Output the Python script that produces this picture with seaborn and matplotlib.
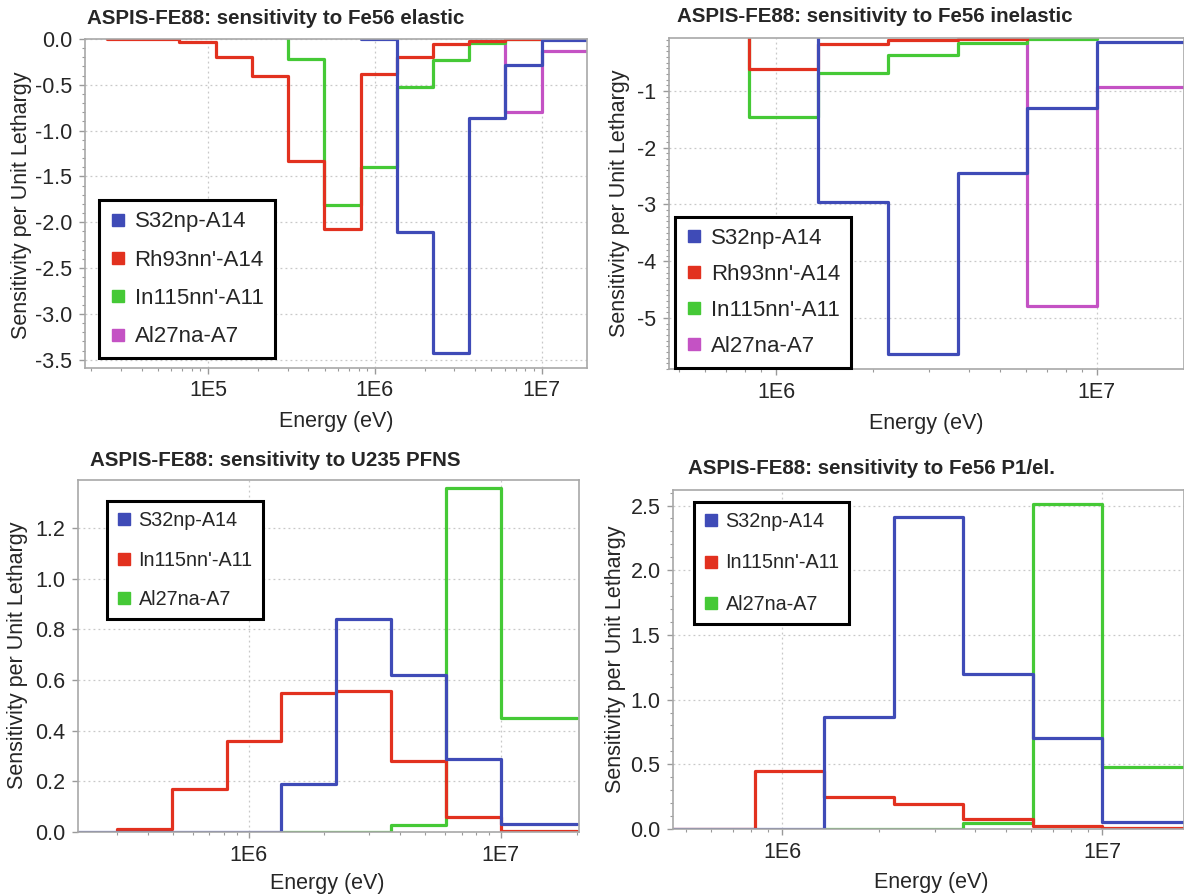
import numpy as np
import pandas as pd
import matplotlib
matplotlib.use("Agg")
import matplotlib.pyplot as plt
import seaborn as sns
from matplotlib.lines import Line2D
from matplotlib.ticker import FixedLocator, FuncFormatter, LogLocator, MultipleLocator, NullFormatter

# energy group boundaries (eV), low -> high
edges = [2.48e4, 4.09e4, 6.74e4, 1.11e5, 1.83e5, 3.02e5, 4.98e5, 8.21e5,
         1.35e6, 2.23e6, 3.68e6, 6.07e6, 1.0e7, 2.0e7]
nan = np.nan

# Fe56 elastic
el_s32 = [nan, nan, nan, nan, nan, nan, nan, 0.0, -2.11, -3.43, -0.86, -0.28, -0.01]
el_rh93 = [-0.005, -0.005, -0.03, -0.20, -0.40, -1.33, -2.07, -0.38, -0.20, -0.05, -0.02, 0.0, 0.0]
el_in115 = [nan, nan, nan, nan, nan, -0.22, -1.81, -1.40, -0.52, -0.23, -0.04, 0.0, 0.0]
el_al27 = [nan, nan, nan, nan, nan, nan, nan, nan, nan, nan, nan, -0.80, -0.13]

# Fe56 inelastic
inel_s32 = [nan, nan, nan, nan, nan, nan, nan, nan, -2.96, -5.63, -2.45, -1.30, -0.14]
inel_rh93 = [nan, nan, nan, nan, nan, nan, nan, -0.62, -0.17, -0.11, -0.09, 0.0, 0.0]
inel_in115 = [nan, nan, nan, nan, nan, nan, nan, -1.45, -0.68, -0.36, -0.15, -0.08, 0.0]
inel_al27 = [nan, nan, nan, nan, nan, nan, nan, nan, nan, nan, nan, -4.79, -0.93]

# U235 PFNS
pfns_s32 = [nan, nan, nan, nan, 0.0, 0.0, 0.0, 0.0, 0.19, 0.84, 0.62, 0.29, 0.03]
pfns_in115 = [nan, nan, nan, nan, nan, 0.012, 0.17, 0.36, 0.55, 0.555, 0.28, 0.06, 0.003]
pfns_al27 = [nan, nan, nan, nan, nan, nan, nan, nan, 0.0, 0.0, 0.027, 1.36, 0.45]

# Fe56 P1 elastic
p1_s32 = [nan, nan, nan, nan, nan, 0.0, 0.0, 0.0, 0.865, 2.41, 1.20, 0.70, 0.057]
p1_in115 = [nan, nan, nan, nan, nan, 0.0, 0.0, 0.445, 0.245, 0.19, 0.078, 0.026, 0.008]
p1_al27 = [nan, nan, nan, nan, nan, nan, nan, nan, 0.0, 0.0, 0.047, 2.51, 0.48]

colors = {"S32np-A14": "#3f4bb7", "Rh93nn'-A14": "#e2311f",
          "In115nn'-A11": "#45c936", "Al27na-A7": "#c452c4"}
colors_low = {"S32np-A14": "#3f4bb7", "In115nn'-A11": "#e2311f", "Al27na-A7": "#45c936"}

W, H = 1184, 896

sns.set_style("white")
plt.rcParams["font.family"] = ["Liberation Sans", "DejaVu Sans"]
plt.rcParams["axes.unicode_minus"] = False


def step_frame(series):
    rows = []
    for name, vals in series:
        started = False
        for lo, hi, v in zip(edges[:-1], edges[1:], vals):
            if np.isnan(v):
                continue
            if not started:
                rows.append((name, lo, 0.0))
                started = True
            rows.append((name, lo, v))
            rows.append((name, hi, v))
    return pd.DataFrame(rows, columns=["series", "E", "S"])


def px_axes(fig, left, right, top, bottom):
    return fig.add_axes([left / W, 1 - bottom / H, (right - left) / W, (bottom - top) / H])


def draw_panel(fig, box, series, pal, xlim, ylim, yticks, ymin_step, title, tpos,
               xlab_pos, ylab_pos, leg_anchor, leg_size, leg_space, hide_right=False):
    ax = px_axes(fig, *box)
    df = step_frame(series)
    order = [n for n, _ in series][::-1]
    sns.lineplot(data=df, x="E", y="S", hue="series", hue_order=order, palette=pal,
                 estimator=None, sort=False, linewidth=2.3, legend=False, ax=ax)
    ax.set_xscale("log")
    ax.set_xlim(*xlim)
    ax.set_ylim(*ylim)
    ax.xaxis.set_major_locator(FixedLocator([1e5, 1e6, 1e7]))
    ax.xaxis.set_major_formatter(FuncFormatter(lambda v, p: "1E%d" % round(np.log10(v))))
    ax.xaxis.set_minor_locator(LogLocator(base=10, subs=np.arange(2, 10)))
    ax.xaxis.set_minor_formatter(NullFormatter())
    ax.set_yticks(yticks)
    if ymin_step:
        ax.yaxis.set_minor_locator(MultipleLocator(ymin_step))
    ax.tick_params(which="both", direction="out", color="#9a9a9a", labelsize=15.5,
                   left=True, bottom=True)
    ax.tick_params(which="major", length=4, width=1, pad=5)
    ax.tick_params(which="minor", length=2.5, width=0.8)
    ax.grid(True, which="major", linestyle=(0, (1.5, 2.5)), color="#c8c8c8", linewidth=0.9)
    for s in ax.spines.values():
        s.set_color("#a8a8a8")
        s.set_linewidth(1.2)
    if hide_right:
        ax.spines["right"].set_visible(False)
    ax.set_xlabel("")
    ax.set_ylabel("")
    fig.text(tpos[0] / W, 1 - tpos[1] / H, title, ha="left", va="center",
             fontsize=14.8, fontweight="bold")
    fig.text(xlab_pos[0] / W, 1 - xlab_pos[1] / H, "Energy (eV)", ha="center",
             va="center", fontsize=15.5)
    fig.text(ylab_pos[0] / W, 1 - ylab_pos[1] / H, "Sensitivity per Unit Lethargy",
             ha="center", va="center", rotation=90, fontsize=15.5)
    handles = [Line2D([], [], linestyle="none", marker="s", markersize=9,
                      markerfacecolor=pal[n], markeredgecolor=pal[n]) for n, _ in series]
    leg = ax.legend(handles, [n for n, _ in series], loc="upper left",
                    bbox_to_anchor=leg_anchor, fontsize=leg_size, frameon=True,
                    fancybox=False, borderpad=0.5, labelspacing=leg_space,
                    handlelength=0.7, handletextpad=0.4, borderaxespad=0)
    leg.get_frame().set_edgecolor("black")
    leg.get_frame().set_linewidth(2.2)
    leg.get_frame().set_alpha(1)
    return ax


fig = plt.figure(figsize=(W / 100, H / 100), dpi=100)

draw_panel(fig, (85, 587, 39, 368),
           [("S32np-A14", el_s32), ("Rh93nn'-A14", el_rh93),
            ("In115nn'-A11", el_in115), ("Al27na-A7", el_al27)],
           colors, (1.83e4, 1.87e7), (-3.59, 0.0), np.arange(-3.5, 0.01, 0.5), 0.1,
           "ASPIS-FE88: sensitivity to Fe56 elastic", (87, 19), (336, 421), (22, 205),
           (0.028, 0.51), 16, 0.78)

draw_panel(fig, (669, 1184, 38, 369),
           [("S32np-A14", inel_s32), ("Rh93nn'-A14", inel_rh93),
            ("In115nn'-A11", inel_in115), ("Al27na-A7", inel_al27)],
           colors, (4.64e5, 1.87e7), (-5.9, -0.066), [-5, -4, -3, -2, -1], 0.1,
           "ASPIS-FE88: sensitivity to Fe56 inelastic", (677, 16), (926, 423), (620, 203),
           (0.012, 0.46), 16, 0.68)

draw_panel(fig, (78, 579, 480, 832),
           [("S32np-A14", pfns_s32), ("In115nn'-A11", pfns_in115), ("Al27na-A7", pfns_al27)],
           colors_low, (2.11e5, 2.04e7), (0.0, 1.39), np.arange(0, 1.21, 0.2), None,
           "ASPIS-FE88: sensitivity to U235 PFNS", (90, 460), (327, 883), (18, 655),
           (0.058, 0.94), 14.2, 1.05)

draw_panel(fig, (673, 1184, 490, 829),
           [("S32np-A14", p1_s32), ("In115nn'-A11", p1_in115), ("Al27na-A7", p1_al27)],
           colors_low, (4.56e5, 1.8e7), (0.0, 2.62), np.arange(0, 2.51, 0.5), 0.1,
           "ASPIS-FE88: sensitivity to Fe56 P1/el.", (688, 468), (931, 882), (615, 659),
           (0.041, 0.965), 14.2, 1.15)

fig.savefig("out.png", dpi=100)
